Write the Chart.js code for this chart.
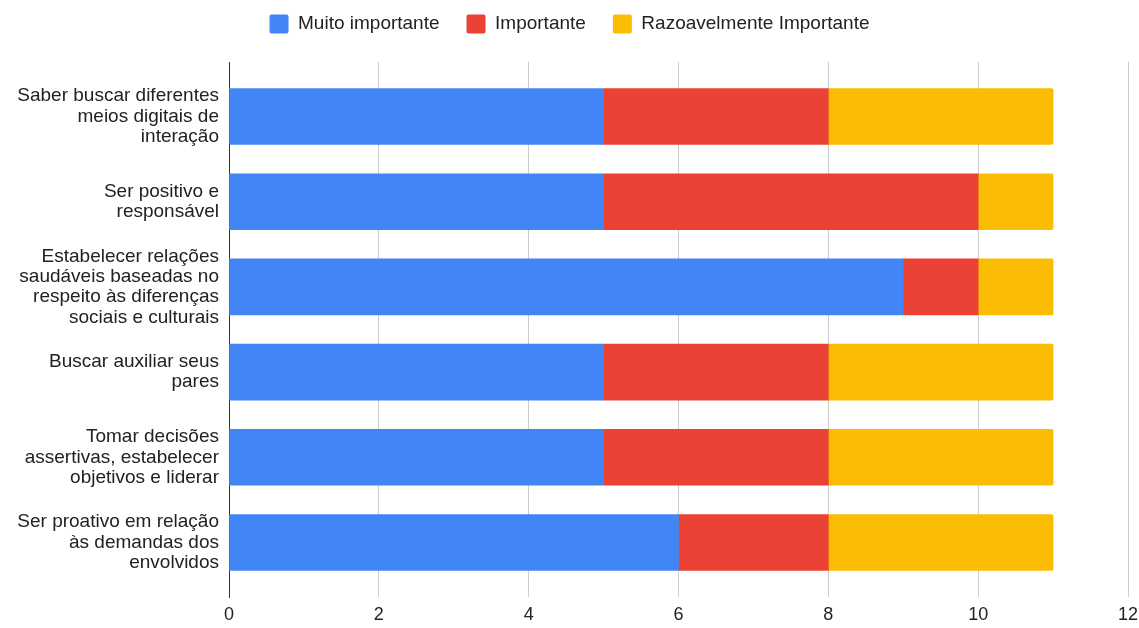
<!DOCTYPE html>
<html>
<head>
<meta charset="utf-8">
<script src="https://cdn.jsdelivr.net/npm/chart.js@4.4.1/dist/chart.umd.min.js"></script>
<style>
  html, body { margin: 0; padding: 0; background: #fff; }
  #wrap { width: 1139px; height: 628px; position: relative; }
</style>
</head>
<body>
<div id="wrap"><canvas id="chart"></canvas></div>
<script>
// competências (each label already split into its lines)
const categories = [
  ['Saber buscar diferentes', 'meios digitais de', 'interação'],
  ['Ser positivo e', 'responsável'],
  ['Estabelecer relações', 'saudáveis baseadas no', 'respeito às diferenças', 'sociais e culturais'],
  ['Buscar auxiliar seus', 'pares'],
  ['Tomar decisões', 'assertivas, estabelecer', 'objetivos e liderar'],
  ['Ser proativo em relação', 'às demandas dos', 'envolvidos']
];
const muitoImportante = [5, 5, 9, 5, 5, 6];
const importante = [3, 5, 1, 3, 3, 2];
const razoavelmente = [3, 1, 1, 3, 3, 3];
const xTicks = [0, 2, 4, 6, 8, 10, 12];

const FONT = "'Liberation Sans', Arial, sans-serif";
const TEXT = '#222222';
const LEGEND_PAD = 27;   // also the gap between legend items
const LEGEND_TOP = -12.5; // pulls the legend row back up to y ~24
const PLOT_TOP = 62;

// rows sit on a linear index scale so the plot keeps some room above and below
const rows = (vals) => vals.map((v, i) => ({ x: v, y: i }));

// fixed legend block height so the plot always starts at PLOT_TOP
const legendHeight = {
  id: 'legendHeight',
  beforeLayout(chart) {
    const lg = chart.legend;
    if (!lg || lg._fixed) return;
    const fit = lg.fit;
    lg.fit = function () {
      fit.call(this);
      this.height = PLOT_TOP - LEGEND_TOP;
    };
    lg._fixed = true;
  }
};

new Chart(document.getElementById('chart'), {
  type: 'bar',
  data: {
    datasets: [
      { label: 'Muito importante', data: rows(muitoImportante), backgroundColor: '#4285F4' },
      { label: 'Importante', data: rows(importante), backgroundColor: '#EA4335' },
      {
        label: 'Razoavelmente Importante', data: rows(razoavelmente), backgroundColor: '#FBBC04',
        borderRadius: { topRight: 2, bottomRight: 2 }, borderSkipped: 'start'
      }
    ]
  },
  plugins: [legendHeight],
  options: {
    indexAxis: 'y',
    responsive: true,
    maintainAspectRatio: false,
    animation: false,
    barThickness: 56,
    layout: { padding: { top: LEGEND_TOP, right: 0, bottom: 0, left: 0 } },
    plugins: {
      tooltip: { enabled: false },
      legend: {
        position: 'top',
        align: 'center',
        labels: {
          font: { family: FONT, size: 19 },
          color: TEXT,
          boxWidth: 19,
          boxHeight: 19,
          padding: LEGEND_PAD,
          useBorderRadius: true,
          borderRadius: 2
        }
      }
    },
    scales: {
      x: {
        type: 'linear',
        stacked: true,
        min: 0,
        max: 12,
        afterBuildTicks: (s) => { s.ticks = xTicks.map(v => ({ value: v })); },
        afterFit: (s) => { s.height = 31; s.paddingRight = 11; },
        grid: {
          color: (ctx) => ctx.tick && ctx.tick.value === 0 ? '#333333' : '#cccccc',
          lineWidth: 1,
          drawTicks: false
        },
        border: { display: false },
        ticks: { font: { family: FONT, size: 18 }, color: TEXT, padding: 7 }
      },
      y: {
        type: 'linear',
        stacked: true,
        reverse: true,
        offset: false,
        min: -0.64,
        max: 5.64,
        afterBuildTicks: (s) => { s.ticks = categories.map((_, i) => ({ value: i })); },
        afterFit: (s) => { s.width = 229; s.paddingTop = 0; s.paddingBottom = 0; },
        grid: { display: false, drawTicks: false },
        border: { display: true, color: '#333333', width: 1 },
        ticks: {
          autoSkip: false,
          font: { family: FONT, size: 19, lineHeight: 1.07 },
          color: TEXT,
          padding: 10,
          callback: (v) => categories[v] || ''
        }
      }
    }
  }
});
</script>
</body>
</html>
